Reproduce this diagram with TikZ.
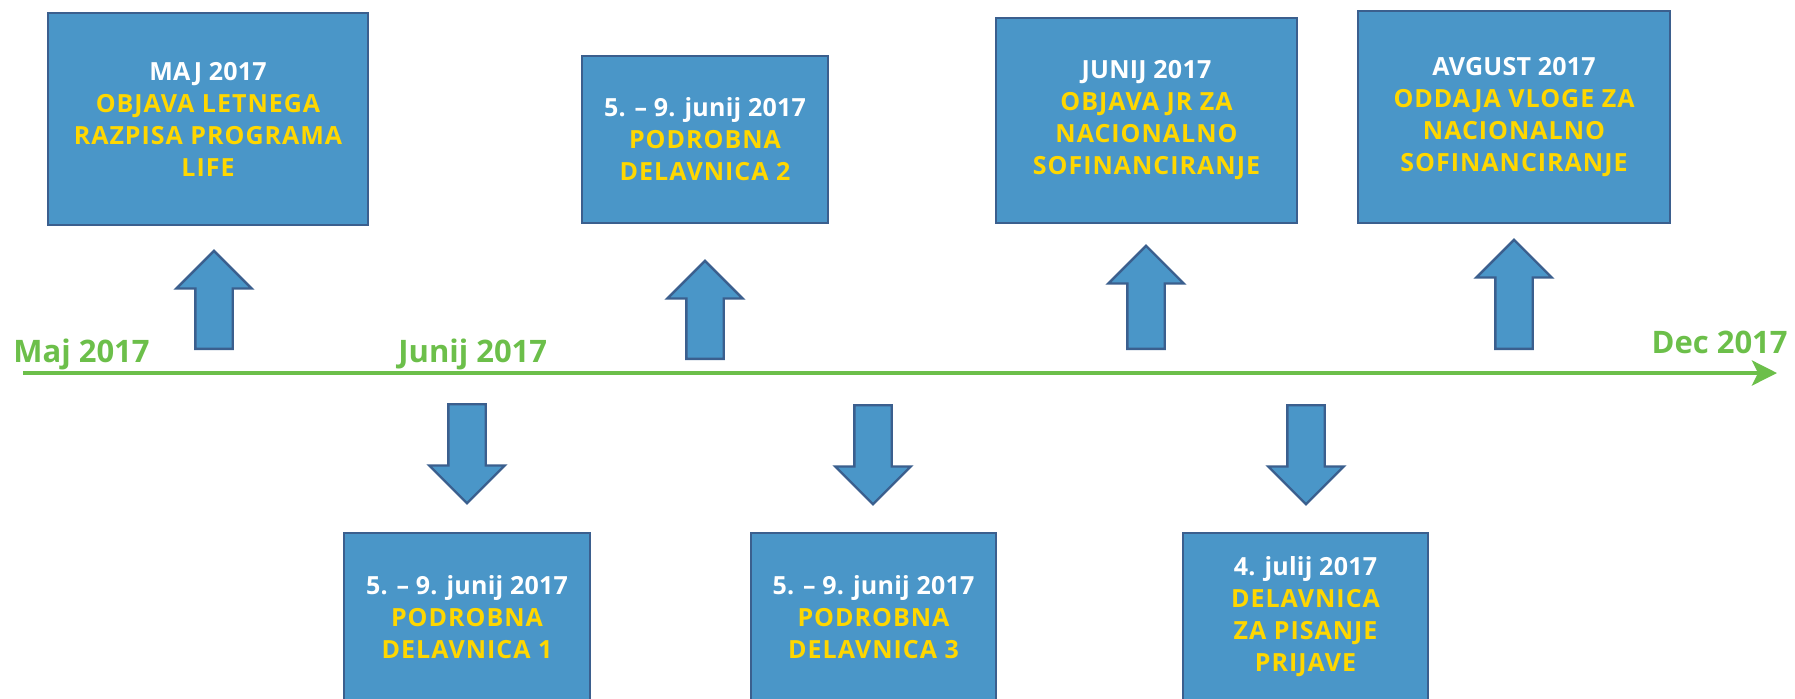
\documentclass[tikz,border=0pt]{standalone}
\usepackage{fontspec}
\setsansfont{Open Sans}
\newfontfamily\boxfont{Open Sans}[LetterSpace=4]
\usetikzlibrary{arrows.meta}
\usetikzlibrary{shapes.arrows}
\definecolor{boxblue}{HTML}{4A96C8}
\definecolor{boxline}{HTML}{3B5F8E}
\definecolor{txtyellow}{HTML}{FFD700}
\definecolor{tlgreen}{HTML}{6CBF4A}
\tikzstyle{event} = [rectangle, inner sep=0pt, align=center, draw=boxline, line width=1pt, fill=boxblue, text=txtyellow, font=\boxfont\bfseries\fontsize{12.5}{16}\selectfont]
\tikzstyle{blockarrow} = [single arrow, inner xsep=0pt, inner ysep=8.75pt, single arrow head extend=9.5pt, single arrow head indent=0pt, draw=boxline, line width=1.2pt, fill=boxblue, anchor=tail]
\tikzstyle{uparrow} = [blockarrow, rotate=90]
\tikzstyle{downarrow} = [blockarrow, rotate=-90]
\tikzstyle{month} = [inner sep=0pt, text=tlgreen, font=\sffamily\bfseries\fontsize{15.5}{18}\selectfont]
\tikzstyle{timeline} = [draw=tlgreen, line width=2pt, -{Stealth[length=12.5pt, width=12.5pt, inset=3pt]}]
\newcommand{\when}[1]{{\addfontfeature{LetterSpace=1}\textcolor{white}{#1}}}

\begin{document}
\begin{tikzpicture}[x=0.5pt, y=-0.5pt]
        \useasboundingbox (0,0) rectangle (1795,698);
        % timeline
        \coordinate (tlstart) at (23,373);
        \coordinate (tlend) at (1777,373);
        \draw [timeline] (tlstart) -- (tlend);
        \node (maj) [month, anchor=base west] at (13,362) {Maj 2017};
        \node (junij) [month, anchor=base west] at (398,362) {Junij 2017};
        \node (dec) [month, anchor=base east] at (1788,353) {Dec 2017};
        % events above
        \node (razpis) [event, minimum width=160pt, minimum height=106pt] at (208,119) {\when{MAJ 2017}\\OBJAVA LETNEGA\\RAZPISA PROGRAMA\\LIFE};
        \node (del2) [event, minimum width=123pt, minimum height=83.5pt] at (705,139.5) {\when{5. – 9. junij 2017}\\PODROBNA\\DELAVNICA 2};
        \node (jr) [event, minimum width=150.5pt, minimum height=102.5pt] at (1146.5,120.5) {\when{JUNIJ 2017}\\OBJAVA JR ZA\\NACIONALNO\\SOFINANCIRANJE};
        \node (vloga) [event, minimum width=156pt, minimum height=106pt] at (1514,117) {\when{AVGUST 2017}\\ODDAJA VLOGE ZA\\NACIONALNO\\SOFINANCIRANJE};
        \node (uprazpis) [uparrow, minimum height=49pt] at (214,350) {};
        \node (updel2) [uparrow, minimum height=49pt] at (705,360) {};
        \node (upjr) [uparrow, minimum height=51.5pt] at (1146,350) {};
        \node (upvloga) [uparrow, minimum height=54.5pt] at (1514,350) {};
        % events below
        \node (del1) [event, minimum width=123pt, minimum height=84pt] at (467,617) {\when{5. – 9. junij 2017}\\PODROBNA\\DELAVNICA 1};
        \node (del3) [event, minimum width=122.5pt, minimum height=84pt] at (873.5,617) {\when{5. – 9. junij 2017}\\PODROBNA\\DELAVNICA 3};
        \node (pisanje) [event, minimum width=122.5pt, minimum height=84pt] at (1305.5,617) {\when{4. julij 2017}\\DELAVNICA\\ZA PISANJE\\PRIJAVE};
        \node (dndel1) [downarrow, minimum height=49.5pt] at (467,403) {};
        \node (dndel3) [downarrow, minimum height=49.5pt] at (873,404) {};
        \node (dnpisanje) [downarrow, minimum height=49.5pt] at (1306,404) {};
    \end{tikzpicture}
\end{document}
